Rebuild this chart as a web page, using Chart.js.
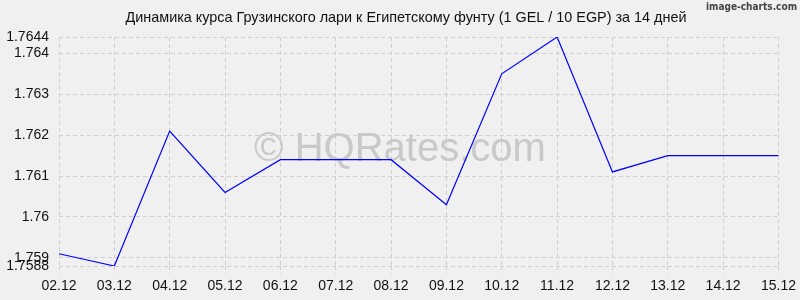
<!DOCTYPE html>
<html>
<head>
<meta charset="utf-8">
<script src="https://cdn.jsdelivr.net/npm/chart.js@4"></script>
<style>
  html, body { margin: 0; padding: 0; background: #f0f0f0; }
  #wrap { width: 800px; height: 300px; position: relative; }
</style>
</head>
<body>
<div id="wrap"><canvas id="c" width="800" height="300"></canvas></div>
<script>
const categories = ["02.12","03.12","04.12","05.12","06.12","07.12","08.12","09.12","10.12","11.12","12.12","13.12","14.12","15.12"];
const rates = [1.7591, 1.7588, 1.7621, 1.7606, 1.7614, 1.7614, 1.7614, 1.7603, 1.7635, 1.7644, 1.7611, 1.7615, 1.7615, 1.7615];
const yTicks = [1.7588, 1.759, 1.76, 1.761, 1.762, 1.763, 1.764, 1.7644];
const titleText = "Динамика курса Грузинского лари к Египетскому фунту (1 GEL / 10 EGP) за 14 дней";
const watermarkText = "© HQRates.com";
const brandText = "image-charts.com";

const decor = {
  id: 'decor',
  beforeDraw(chart) {
    const ctx = chart.ctx;
    ctx.save();
    ctx.fillStyle = '#f0f0f0';
    ctx.fillRect(0, 0, chart.width, chart.height);
    ctx.font = '14.4px "Liberation Sans", Arial, sans-serif';
    ctx.fillStyle = '#111';
    ctx.textAlign = 'center';
    ctx.textBaseline = 'middle';
    ctx.fillText(titleText, 406, 18);
    ctx.restore();
  },
  beforeDatasetsDraw(chart) {
    const ctx = chart.ctx;
    ctx.save();
    ctx.font = '40px "Liberation Sans", Arial, sans-serif';
    ctx.fillStyle = '#c9c9c9';
    ctx.textAlign = 'center';
    ctx.textBaseline = 'alphabetic';
    ctx.fillText(watermarkText, 400, 161);
    ctx.restore();
  },
  afterDraw(chart) {
    const ctx = chart.ctx;
    ctx.save();
    ctx.font = 'bold 10px "DejaVu Sans Condensed", "DejaVu Sans", sans-serif';
    ctx.fillStyle = '#444';
    ctx.textAlign = 'right';
    ctx.textBaseline = 'alphabetic';
    ctx.fillText(brandText, 797, 10);
    ctx.restore();
  }
};

new Chart(document.getElementById('c'), {
  type: 'line',
  data: {
    labels: categories,
    datasets: [{
      data: rates,
      borderColor: '#0000ff',
      borderWidth: 1.2,
      pointRadius: 0,
      tension: 0,
      fill: false
    }]
  },
  options: {
    responsive: false,
    animation: false,
    devicePixelRatio: 1,
    layout: { padding: { left: 0, right: 21, top: 37, bottom: 0 } },
    plugins: {
      legend: { display: false },
      tooltip: { enabled: false },
      title: { display: false }
    },
    scales: {
      x: {
        type: 'category',
        offset: false,
        border: { display: false, dash: [4, 3] },
        grid: {
          color: '#cfcfcf',
          lineWidth: 1,
          tickLength: 8,
          drawTicks: true,
          tickBorderDash: [4, 3]
        },
        ticks: {
          color: '#111',
          font: { family: '"Liberation Sans", Arial, sans-serif', size: 14 },
          padding: 4,
          maxRotation: 0,
          autoSkip: false
        },
        afterFit(s) { s.height = 34; }
      },
      y: {
        type: 'linear',
        min: 1.7588,
        max: 1.7644,
        border: { display: false, dash: [4, 3] },
        grid: {
          color: '#cfcfcf',
          lineWidth: 1,
          drawTicks: false
        },
        afterBuildTicks(s) { s.ticks = yTicks.map(v => ({ value: v })); },
        ticks: {
          color: '#111',
          font: { family: '"Liberation Sans", Arial, sans-serif', size: 14 },
          padding: 10,
          autoSkip: false,
          callback: v => String(v)
        },
        afterFit(s) { s.width = 59; }
      }
    }
  },
  plugins: [decor]
});
</script>
</body>
</html>
